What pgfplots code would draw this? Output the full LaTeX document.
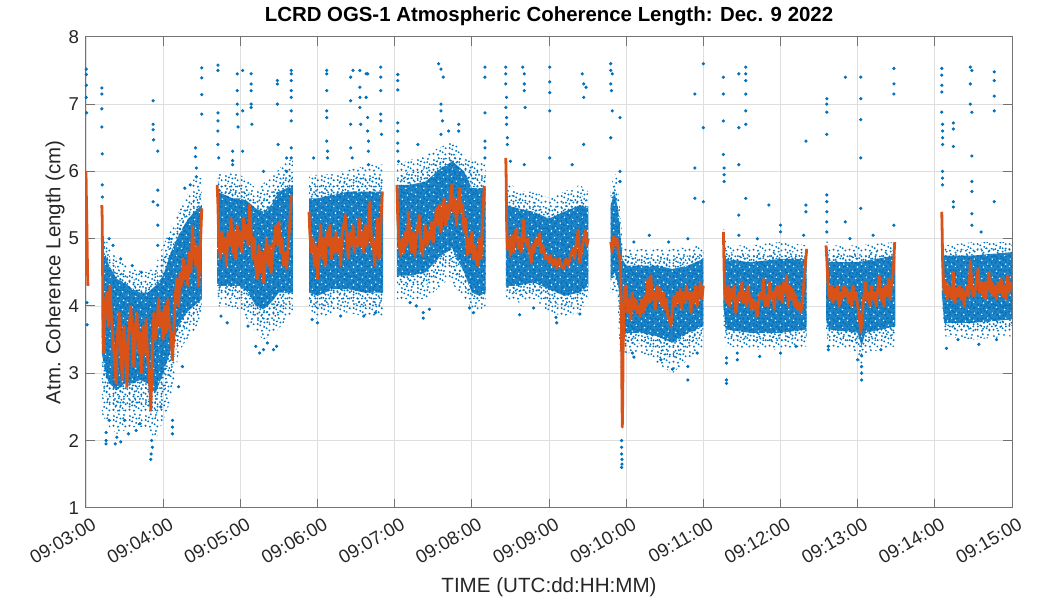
\documentclass[border=0pt]{standalone}
\usepackage{fontspec}
\setmainfont{Liberation Sans}
\usepackage{pgfplots}
\pgfplotsset{compat=1.18}
\usetikzlibrary{patterns}
\definecolor{mblue}{RGB}{0,114,189}
\definecolor{morange}{RGB}{217,83,25}
\pgfdeclarepatternformonly{speckle}{\pgfqpoint{0pt}{0pt}}{\pgfqpoint{8pt}{8pt}}{\pgfqpoint{8pt}{8pt}}{%
 \pgfpathcircle{\pgfqpoint{0.8pt}{1.2pt}}{0.55pt}
 \pgfpathcircle{\pgfqpoint{3.1pt}{0.7pt}}{0.55pt}
 \pgfpathcircle{\pgfqpoint{5.6pt}{2.0pt}}{0.55pt}
 \pgfpathcircle{\pgfqpoint{7.2pt}{4.1pt}}{0.55pt}
 \pgfpathcircle{\pgfqpoint{2.2pt}{3.5pt}}{0.55pt}
 \pgfpathcircle{\pgfqpoint{4.4pt}{5.0pt}}{0.55pt}
 \pgfpathcircle{\pgfqpoint{1.0pt}{6.3pt}}{0.55pt}
 \pgfpathcircle{\pgfqpoint{6.3pt}{6.9pt}}{0.55pt}
 \pgfpathcircle{\pgfqpoint{3.6pt}{7.3pt}}{0.55pt}
 \pgfpathcircle{\pgfqpoint{7.0pt}{0.8pt}}{0.55pt}
 \pgfpathcircle{\pgfqpoint{4.3pt}{2.7pt}}{0.55pt}
 \pgfpathcircle{\pgfqpoint{0.9pt}{4.2pt}}{0.55pt}
 \pgfpathcircle{\pgfqpoint{5.9pt}{5.2pt}}{0.55pt}
 \pgfpathcircle{\pgfqpoint{2.6pt}{5.6pt}}{0.55pt}
 \pgfusepath{fill}}
\pgfdeclarepatternformonly{speckleB}{\pgfqpoint{0pt}{0pt}}{\pgfqpoint{7pt}{7pt}}{\pgfqpoint{7pt}{7pt}}{%
 \pgfpathcircle{\pgfqpoint{1.9pt}{0.7pt}}{0.55pt}
 \pgfpathcircle{\pgfqpoint{4.6pt}{1.3pt}}{0.55pt}
 \pgfpathcircle{\pgfqpoint{6.2pt}{2.9pt}}{0.55pt}
 \pgfpathcircle{\pgfqpoint{0.7pt}{2.6pt}}{0.55pt}
 \pgfpathcircle{\pgfqpoint{3.2pt}{3.1pt}}{0.55pt}
 \pgfpathcircle{\pgfqpoint{5.0pt}{4.4pt}}{0.55pt}
 \pgfpathcircle{\pgfqpoint{1.6pt}{4.9pt}}{0.55pt}
 \pgfpathcircle{\pgfqpoint{3.9pt}{6.2pt}}{0.55pt}
 \pgfpathcircle{\pgfqpoint{6.3pt}{6.1pt}}{0.55pt}
 \pgfpathcircle{\pgfqpoint{0.7pt}{6.4pt}}{0.55pt}
 \pgfusepath{fill}}
\pgfdeclarepatternformonly{gaps}{\pgfqpoint{0pt}{0pt}}{\pgfqpoint{9pt}{9pt}}{\pgfqpoint{9pt}{9pt}}{%
 \pgfpathcircle{\pgfqpoint{1.2pt}{1.5pt}}{0.4pt}
 \pgfpathcircle{\pgfqpoint{5.1pt}{0.9pt}}{0.4pt}
 \pgfpathcircle{\pgfqpoint{7.6pt}{3.4pt}}{0.4pt}
 \pgfpathcircle{\pgfqpoint{3.3pt}{4.6pt}}{0.4pt}
 \pgfpathcircle{\pgfqpoint{0.8pt}{7.1pt}}{0.4pt}
 \pgfpathcircle{\pgfqpoint{6.0pt}{6.8pt}}{0.4pt}
 \pgfpathcircle{\pgfqpoint{8.2pt}{8.3pt}}{0.4pt}
 \pgfusepath{fill}}
\begin{document}
\begin{tikzpicture}
\begin{axis}[
 name=ax, at={(0,0)}, anchor=south west,
 width=463pt, height=235.5pt, scale only axis,
 xmin=0, xmax=12, ymin=1, ymax=8,
 xtick={0,1,2,3,4,5,6,7,8,9,10,11,12},
 xticklabels={09:03:00,09:04:00,09:05:00,09:06:00,09:07:00,09:08:00,09:09:00,09:10:00,09:11:00,09:12:00,09:13:00,09:14:00,09:15:00},
 ytick={1,2,3,4,5,6,7,8},
 xtick pos=both, ytick pos=both, tick align=inside,
 grid=major, grid style={black!13, line width=0.4pt},
 axis line style={black!55, line width=0.5pt},
 tick style={black!55, line width=0.5pt},
 major tick length=4.5pt,
 tick label style={font=\fontsize{9.3}{10}\selectfont, text=black!85},
 /pgf/number format/assume math mode=true,
 x tick label style={rotate=30, anchor=north east, inner sep=0.5pt, xshift=0.5pt, yshift=-4.5pt},
 title={\textbf{LCRD OGS-1 Atmospheric Coherence Length: Dec. 9 2022}},
 title style={font=\fontsize{10.2}{12}\selectfont, yshift=-4pt},
 xlabel={TIME (UTC:dd:HH:MM)},
 xlabel style={font=\fontsize{10.3}{12}\selectfont, text=black!85, at={(axis description cs:0.5,-0.1677)}, anchor=center},
 ylabel={Atm. Coherence Length (cm)},
 ylabel style={font=\fontsize{10.2}{12}\selectfont, text=black!85, at={(axis description cs:-0.0335,0.5)}, anchor=center},
]
\pgfplotsset{outer/.style={draw=none, pattern=speckle, pattern color=mblue},
 mid/.style={draw=none, pattern=speckleB, pattern color=mblue},
 core/.style={draw=none, fill=mblue, fill opacity=0.88},
 gap/.style={draw=none, pattern=gaps, pattern color=white}}
% outer envelopes (sparse dots)
\addplot[outer] coordinates {(0.205,5.1)(0.3,4.9)(0.4,4.7)(0.6,4.55)(0.8,4.5)(0.9,4.6)(1.0,4.9)(1.1,5.15)(1.2,5.4)(1.3,5.6)(1.4,5.9)(1.5,5.9)(1.5,3.9)(1.4,3.6)(1.3,3.5)(1.2,3.3)(1.1,2.6)(1.0,2.3)(0.9,2.0)(0.8,2.2)(0.6,2.2)(0.4,2.1)(0.3,2.2)(0.205,2.4)};
\addplot[outer] coordinates {(1.70,6.0)(2.0,5.95)(2.2,5.75)(2.4,5.9)(2.55,6.1)(2.68,6.2)(2.68,3.9)(2.6,3.8)(2.45,3.6)(2.3,3.5)(2.2,3.6)(2.0,3.95)(1.70,4.0)};
\addplot[outer] coordinates {(2.89,5.95)(3.1,5.95)(3.3,6.0)(3.5,6.05)(3.7,6.1)(3.85,6.1)(3.85,3.85)(3.6,3.85)(3.4,3.9)(3.2,3.9)(3.0,3.8)(2.89,3.9)};
\addplot[outer] coordinates {(4.03,6.1)(4.4,6.25)(4.75,6.45)(4.95,6.2)(5.18,6.1)(5.18,4.0)(5.05,3.9)(4.9,4.1)(4.7,4.4)(4.4,4.1)(4.03,4.1)};
\addplot[outer] coordinates {(5.44,5.9)(5.6,5.7)(5.8,5.7)(6.0,5.6)(6.2,5.7)(6.4,5.8)(6.51,5.7)(6.51,4.1)(6.4,3.9)(6.2,3.85)(6.0,3.9)(5.8,4.1)(5.6,4.05)(5.44,4.1)};
\addplot[outer] coordinates {(6.80,5.8)(6.88,6.0)(6.93,5.3)(6.96,4.85)(7.2,4.85)(7.6,4.85)(8.0,4.9)(8.0,3.4)(7.6,3.0)(7.2,3.3)(6.96,3.3)(6.93,3.0)(6.88,4.2)(6.80,4.2)};
\addplot[outer] coordinates {(8.26,5.2)(8.3,4.9)(8.6,4.9)(9.0,4.95)(9.34,4.9)(9.34,3.4)(9.0,3.35)(8.6,3.35)(8.3,3.4)(8.26,3.6)};
\addplot[outer] coordinates {(9.59,5.0)(9.63,4.9)(10.0,4.9)(10.49,4.95)(10.49,3.4)(10.1,3.3)(10.05,3.0)(10.0,3.3)(9.63,3.4)(9.59,3.6)};
\addplot[outer] coordinates {(11.09,5.5)(11.12,4.9)(11.5,4.95)(12,4.95)(12,3.55)(11.5,3.5)(11.12,3.55)(11.09,4.0)};
% middle envelopes (extra dots)
\addplot[mid] coordinates {(0.205,5.0)(0.3,4.75)(0.4,4.55)(0.6,4.4)(0.8,4.35)(0.9,4.45)(1.0,4.7)(1.1,5.0)(1.2,5.25)(1.3,5.45)(1.4,5.65)(1.5,5.7)(1.5,4.0)(1.4,3.8)(1.3,3.7)(1.2,3.5)(1.1,3.0)(1.0,2.65)(0.9,2.35)(0.8,2.5)(0.6,2.5)(0.4,2.4)(0.3,2.5)(0.205,2.85)};
\addplot[mid] coordinates {(1.70,5.85)(2.0,5.8)(2.2,5.6)(2.4,5.7)(2.55,5.9)(2.68,6.0)(2.68,4.05)(2.6,4.0)(2.45,3.8)(2.3,3.7)(2.2,3.8)(2.0,4.1)(1.70,4.15)};
\addplot[mid] coordinates {(2.89,5.8)(3.1,5.8)(3.3,5.85)(3.5,5.9)(3.7,5.9)(3.85,5.9)(3.85,4.0)(3.6,4.0)(3.4,4.05)(3.2,4.05)(3.0,3.95)(2.89,4.05)};
\addplot[mid] coordinates {(4.03,5.95)(4.4,6.05)(4.75,6.3)(4.95,6.1)(5.18,5.95)(5.18,4.1)(5.05,4.05)(4.9,4.3)(4.7,4.6)(4.4,4.3)(4.03,4.3)};
\addplot[mid] coordinates {(5.44,5.7)(5.6,5.6)(5.8,5.55)(6.0,5.45)(6.2,5.55)(6.4,5.65)(6.51,5.6)(6.51,4.2)(6.4,4.05)(6.2,4.0)(6.0,4.05)(5.8,4.2)(5.6,4.15)(5.44,4.2)};
\addplot[mid] coordinates {(6.80,5.65)(6.86,5.85)(6.93,5.15)(6.96,4.75)(7.2,4.72)(7.6,4.7)(8.0,4.8)(8.0,3.55)(7.6,3.2)(7.2,3.45)(6.96,3.4)(6.93,3.5)(6.88,4.35)(6.80,4.3)};
\addplot[mid] coordinates {(8.26,5.1)(8.3,4.8)(8.6,4.78)(9.0,4.82)(9.34,4.8)(9.34,3.52)(9.0,3.48)(8.6,3.48)(8.3,3.52)(8.26,3.8)};
\addplot[mid] coordinates {(9.59,4.9)(9.63,4.78)(10.0,4.78)(10.49,4.85)(10.49,3.55)(10.1,3.45)(10.05,3.2)(10.0,3.45)(9.63,3.52)(9.59,3.7)};
\addplot[mid] coordinates {(11.09,5.4)(11.12,4.82)(11.5,4.85)(12,4.88)(12,3.68)(11.5,3.62)(11.12,3.65)(11.09,4.1)};
% dense cores
\addplot[core] coordinates {(0.205,4.9)(0.25,4.75)(0.3,4.6)(0.4,4.4)(0.5,4.35)(0.6,4.25)(0.7,4.2)(0.8,4.2)(0.9,4.3)(1.0,4.45)(1.1,4.8)(1.2,5.05)(1.3,5.25)(1.4,5.4)(1.5,5.5)(1.5,4.1)(1.4,4.0)(1.3,3.9)(1.2,3.7)(1.1,3.35)(1.0,3.0)(0.9,2.7)(0.8,2.85)(0.7,2.9)(0.6,2.85)(0.5,2.85)(0.4,2.75)(0.3,2.85)(0.25,3.0)(0.205,3.3)};
\addplot[core] coordinates {(1.70,5.7)(1.8,5.65)(1.9,5.6)(2.0,5.6)(2.1,5.55)(2.2,5.45)(2.3,5.4)(2.4,5.5)(2.5,5.7)(2.6,5.75)(2.68,5.8)(2.68,4.2)(2.6,4.2)(2.5,4.2)(2.4,4.05)(2.3,3.95)(2.2,4.0)(2.1,4.2)(2.0,4.3)(1.9,4.3)(1.8,4.3)(1.70,4.3)};
\addplot[core] coordinates {(2.89,5.6)(3.0,5.6)(3.2,5.65)(3.4,5.7)(3.6,5.7)(3.85,5.7)(3.85,4.2)(3.6,4.2)(3.4,4.25)(3.2,4.25)(3.0,4.15)(2.89,4.2)};
\addplot[core] coordinates {(4.03,5.8)(4.2,5.8)(4.4,5.85)(4.6,6.05)(4.75,6.15)(4.9,6.0)(5.0,5.75)(5.18,5.75)(5.18,4.2)(5.1,4.15)(5.0,4.2)(4.9,4.5)(4.75,4.85)(4.6,4.75)(4.4,4.5)(4.2,4.45)(4.03,4.45)};
\addplot[core] coordinates {(5.44,5.5)(5.6,5.45)(5.8,5.4)(6.0,5.3)(6.2,5.4)(6.4,5.5)(6.51,5.45)(6.51,4.3)(6.4,4.2)(6.2,4.15)(6.0,4.25)(5.8,4.35)(5.6,4.3)(5.44,4.3)};
\addplot[core] coordinates {(6.80,5.5)(6.85,5.7)(6.90,5.4)(6.93,5.0)(6.95,4.7)(7.0,4.6)(7.2,4.6)(7.4,4.6)(7.6,4.55)(7.8,4.6)(8.0,4.7)(8.0,3.7)(7.8,3.6)(7.6,3.45)(7.4,3.55)(7.2,3.6)(7.0,3.6)(6.95,3.5)(6.93,4.0)(6.90,4.3)(6.85,4.5)(6.80,4.4)};
\addplot[core] coordinates {(8.26,5.0)(8.29,4.7)(8.6,4.65)(9.0,4.7)(9.34,4.7)(9.34,3.65)(9.0,3.6)(8.6,3.6)(8.29,3.65)(8.26,4.0)};
\addplot[core] coordinates {(9.59,4.8)(9.63,4.65)(10.0,4.65)(10.49,4.75)(10.49,3.7)(10.1,3.6)(10.05,3.4)(10.0,3.6)(9.63,3.65)(9.59,3.8)};
\addplot[core] coordinates {(11.09,5.3)(11.12,4.75)(11.5,4.75)(12,4.8)(12,3.8)(11.5,3.75)(11.12,3.75)(11.09,4.2)};
% small gaps in the dense cores
\addplot[gap] coordinates {(0.205,4.9)(0.25,4.75)(0.3,4.6)(0.4,4.4)(0.5,4.35)(0.6,4.25)(0.7,4.2)(0.8,4.2)(0.9,4.3)(1.0,4.45)(1.1,4.8)(1.2,5.05)(1.3,5.25)(1.4,5.4)(1.5,5.5)(1.5,4.1)(1.4,4.0)(1.3,3.9)(1.2,3.7)(1.1,3.35)(1.0,3.0)(0.9,2.7)(0.8,2.85)(0.7,2.9)(0.6,2.85)(0.5,2.85)(0.4,2.75)(0.3,2.85)(0.25,3.0)(0.205,3.3)};
\addplot[gap] coordinates {(1.70,5.7)(1.8,5.65)(1.9,5.6)(2.0,5.6)(2.1,5.55)(2.2,5.45)(2.3,5.4)(2.4,5.5)(2.5,5.7)(2.6,5.75)(2.68,5.8)(2.68,4.2)(2.6,4.2)(2.5,4.2)(2.4,4.05)(2.3,3.95)(2.2,4.0)(2.1,4.2)(2.0,4.3)(1.9,4.3)(1.8,4.3)(1.70,4.3)};
\addplot[gap] coordinates {(2.89,5.6)(3.0,5.6)(3.2,5.65)(3.4,5.7)(3.6,5.7)(3.85,5.7)(3.85,4.2)(3.6,4.2)(3.4,4.25)(3.2,4.25)(3.0,4.15)(2.89,4.2)};
\addplot[gap] coordinates {(4.03,5.8)(4.2,5.8)(4.4,5.85)(4.6,6.05)(4.75,6.15)(4.9,6.0)(5.0,5.75)(5.18,5.75)(5.18,4.2)(5.1,4.15)(5.0,4.2)(4.9,4.5)(4.75,4.85)(4.6,4.75)(4.4,4.5)(4.2,4.45)(4.03,4.45)};
\addplot[gap] coordinates {(5.44,5.5)(5.6,5.45)(5.8,5.4)(6.0,5.3)(6.2,5.4)(6.4,5.5)(6.51,5.45)(6.51,4.3)(6.4,4.2)(6.2,4.15)(6.0,4.25)(5.8,4.35)(5.6,4.3)(5.44,4.3)};
\addplot[gap] coordinates {(6.80,5.5)(6.85,5.7)(6.90,5.4)(6.93,5.0)(6.95,4.7)(7.0,4.6)(7.2,4.6)(7.4,4.6)(7.6,4.55)(7.8,4.6)(8.0,4.7)(8.0,3.7)(7.8,3.6)(7.6,3.45)(7.4,3.55)(7.2,3.6)(7.0,3.6)(6.95,3.5)(6.93,4.0)(6.90,4.3)(6.85,4.5)(6.80,4.4)};
\addplot[gap] coordinates {(8.26,5.0)(8.29,4.7)(8.6,4.65)(9.0,4.7)(9.34,4.7)(9.34,3.65)(9.0,3.6)(8.6,3.6)(8.29,3.65)(8.26,4.0)};
\addplot[gap] coordinates {(9.59,4.8)(9.63,4.65)(10.0,4.65)(10.49,4.75)(10.49,3.7)(10.1,3.6)(10.05,3.4)(10.0,3.6)(9.63,3.65)(9.59,3.8)};
\addplot[gap] coordinates {(11.09,5.3)(11.12,4.75)(11.5,4.75)(12,4.8)(12,3.8)(11.5,3.75)(11.12,3.75)(11.09,4.2)};
% scattered points
\addplot[only marks, mark=*, mark size=0.6pt, mark options={draw=mblue, fill=mblue}] coordinates {
(0.004,7.52)(0.004,7.44)(0.006,7.28)(0.004,7.1)(0.008,6.87)(0.012,4.05)(0.015,3.72)
(0.205,7.24)(0.205,7.15)(0.205,6.93)(0.205,6.66)(0.21,6.26)(0.21,5.8)(0.212,5.62)(0.87,7.05)(0.87,6.7)(0.87,6.62)(0.875,6.47)(0.93,6.3)(0.87,5.55)(0.93,5.72)(0.93,5.5)(0.93,5.2)(0.93,4.9)(1.5,7.54)(1.5,7.39)(1.5,7.14)(1.5,6.85)(1.42,6.35)(1.42,6.22)(1.43,6.05)(1.43,5.92)(1.35,5.8)(1.28,5.75)(0.26,2.0)(0.26,2.12)(0.26,1.95)(0.38,1.95)(0.4,2.05)(0.45,1.98)(0.55,2.1)(0.65,2.15)(0.84,1.72)(0.845,1.8)(0.85,2.0)(0.86,1.9)(1.12,2.1)(1.12,2.2)(1.12,2.3)(0.3,2.3)(0.7,2.25)(0.5,2.3)(0.6,4.6)(0.35,4.9)(0.3,5.0)(0.72,4.5)(0.45,4.7)(1.08,5.0)(0.97,2.5)(1.2,2.8)(1.25,3.1)
(1.71,7.58)(1.71,7.5)(1.71,6.87)(1.71,6.75)(1.71,6.6)(1.71,6.4)(1.72,6.2)(1.9,6.3)(1.9,6.16)(1.96,7.45)(1.96,7.2)(1.96,7.0)(1.96,6.85)(1.97,6.66)(2.03,7.5)(2.03,6.9)(2.03,6.3)(2.14,7.45)(2.14,7.3)(2.14,7.2)(2.14,7.0)(2.14,6.95)(2.15,6.7)(2.48,7.35)(2.48,7.3)(2.48,7.0)(2.49,6.4)(2.66,7.5)(2.66,7.45)(2.66,7.35)(2.66,7.2)(2.66,7.1)(2.66,6.9)(2.66,6.75)(2.66,6.35)(2.66,6.2)(2.6,6.2)(2.6,6.0)(2.2,3.4)(2.25,3.3)(2.3,3.35)(2.35,3.45)(2.43,3.35)(2.47,3.4)(1.75,3.85)(1.83,3.75)(2.1,3.7)(1.9,6.1)(2.3,6.0)
(3.12,7.5)(3.12,7.45)(3.12,7.2)(3.12,6.9)(3.12,6.8)(3.12,6.45)(3.13,6.3)(3.13,6.2)(3.43,7.4)(3.43,7.05)(3.43,6.7)(3.43,6.35)(3.46,7.5)(3.55,7.5)(3.55,7.25)(3.55,7.1)(3.55,6.95)(3.56,6.7)(3.63,7.45)(3.63,7.1)(3.65,7.45)(3.65,6.8)(3.65,6.6)(3.66,6.45)(3.66,6.3)(3.66,6.1)(3.82,7.55)(3.82,7.4)(3.82,7.2)(3.82,6.85)(3.82,6.75)(3.83,6.55)(3.0,3.75)(2.93,3.8)(3.3,3.85)(3.6,3.85)(3.75,3.9)(3.45,6.2)(2.95,6.2)
(4.04,7.44)(4.04,7.35)(4.04,7.21)(4.04,6.72)(4.04,6.6)(4.04,6.42)(4.04,6.3)(4.05,6.15)(4.57,7.6)(4.6,7.52)(4.63,7.4)(4.6,7.0)(4.6,6.9)(4.62,6.75)(4.6,6.55)(5.17,7.55)(5.17,7.4)(5.17,6.87)(5.17,6.45)(5.17,6.35)(5.17,6.2)(4.83,6.7)(4.83,6.6)(4.37,3.82)(4.37,3.9)(4.45,3.95)(4.28,4.0)(5.02,3.9)(4.97,3.97)(4.2,4.05)(4.3,6.4)(4.7,6.6)
(5.44,7.55)(5.44,7.45)(5.44,7.3)(5.45,7.1)(5.44,6.95)(5.45,6.8)(5.45,6.7)(5.46,6.5)(5.46,6.4)(5.66,7.55)(5.68,7.45)(5.68,7.3)(5.68,7.2)(5.69,6.95)(5.68,6.1)(6.01,7.55)(6.01,7.33)(6.01,7.17)(6.01,6.9)(6.01,6.2)(6.43,7.45)(6.45,7.3)(6.48,7.25)(6.45,7.1)(6.45,6.4)(5.62,3.87)(6.09,3.83)(6.1,3.75)(6.4,3.88)(5.8,3.97)(5.5,6.15)(6.3,6.1)
(6.8,7.6)(6.8,7.5)(6.82,7.45)(6.8,7.3)(6.81,7.2)(6.82,6.9)(6.92,6.8)(6.8,6.5)(6.92,6.0)(6.92,5.85)(7.89,7.15)(7.89,6.05)(7.89,5.6)(8.0,7.6)(8.0,6.65)(8.0,5.55)(6.94,2.0)(6.94,1.9)(6.94,1.8)(6.945,1.72)(6.945,1.65)(6.94,1.6)(7.08,3.3)(7.1,3.24)(7.6,3.06)(7.8,3.1)(7.8,2.9)(7.92,3.3)(7.3,5.05)(7.1,4.95)(7.55,4.95)(7.8,5.0)(7.45,3.2)
(8.26,7.4)(8.26,7.15)(8.26,6.75)(8.26,6.25)(8.27,6.05)(8.27,5.95)(8.27,5.85)(8.46,7.45)(8.46,6.65)(8.46,6.1)(8.46,5.35)(8.46,5.05)(8.55,7.55)(8.55,7.45)(8.55,7.35)(8.55,7.15)(8.55,6.9)(8.55,6.7)(8.55,5.6)(8.85,5.5)(9.0,5.2)(9.0,5.1)(9.33,6.45)(9.33,5.5)(9.33,5.4)(8.3,3.23)(8.3,3.15)(8.3,2.9)(8.3,2.85)(8.44,3.3)(8.44,3.2)(8.73,3.25)(9.0,3.3)(9.2,3.4)(9.3,5.05)(8.7,5.0)
(9.6,7.08)(9.6,7.0)(9.6,6.88)(9.6,6.55)(9.6,5.65)(9.6,5.55)(9.6,5.4)(9.6,5.25)(9.6,5.1)(9.84,7.4)(9.84,5.25)(10.04,7.4)(10.04,7.08)(10.04,6.77)(10.04,6.2)(10.04,5.45)(10.47,7.53)(10.47,7.3)(10.47,7.15)(10.47,5.2)(10.05,3.26)(10.05,3.1)(10.05,3.0)(10.05,2.9)(10.0,3.2)(9.62,3.4)(9.62,3.35)(10.3,3.35)(10.2,5.05)(9.9,5.0)
(11.09,7.53)(11.09,7.43)(11.09,7.28)(11.09,7.18)(11.09,6.88)(11.1,6.7)(11.1,6.6)(11.1,6.5)(11.1,6.4)(11.1,6.0)(11.1,5.9)(11.1,5.8)(11.24,6.72)(11.24,6.63)(11.24,6.37)(11.24,5.55)(11.24,5.47)(11.46,7.55)(11.48,7.5)(11.46,7.3)(11.46,7.0)(11.48,6.88)(11.48,6.23)(11.48,5.85)(11.48,5.7)(11.48,5.37)(11.48,5.2)(11.77,7.48)(11.77,7.35)(11.77,7.12)(11.77,6.9)(11.77,5.55)(11.15,3.37)(11.57,3.43)(11.8,3.5)(11.3,3.5)(11.6,5.1)
};
% moving average (orange)
\pgfplotsset{avg/.style={morange, line width=1.4pt, line join=round}}
\addplot[avg] coordinates {(0.0,6.0)(0.005,5.6)(0.01,5.3)(0.015,4.9)(0.02,4.5)(0.025,4.3)};
\addplot[avg] coordinates {(0.205,5.5)(0.21,5.3)(0.215,4.6)(0.22,3.6)(0.23,3.3)(0.245,4.0)(0.27,4.2)(0.29,3.7)(0.31,4.3)(0.33,3.8)(0.35,3.5)(0.37,3.2)(0.39,2.85)(0.41,3.6)(0.43,3.9)(0.45,3.3)(0.47,2.9)(0.49,3.7)(0.51,3.4)(0.53,2.8)(0.55,3.5)(0.58,4.0)(0.6,3.6)(0.62,3.1)(0.64,3.7)(0.66,3.9)(0.68,3.3)(0.7,3.6)(0.72,3.0)(0.74,3.7)(0.76,3.3)(0.78,3.8)(0.8,3.2)(0.82,3.0)(0.84,2.45)(0.86,3.3)(0.88,3.9)(0.9,3.5)(0.92,3.7)(0.94,4.1)(0.96,3.7)(0.98,3.9)(1.0,3.5)(1.02,4.0)(1.04,3.6)(1.06,4.1)(1.08,3.7)(1.1,3.6)(1.12,3.2)(1.14,3.6)(1.16,4.2)(1.18,4.4)(1.2,4.0)(1.22,4.5)(1.24,4.3)(1.26,4.7)(1.28,4.4)(1.3,4.6)(1.32,4.3)(1.34,4.8)(1.36,4.5)(1.38,5.17)(1.4,4.8)(1.42,4.6)(1.44,4.9)(1.46,4.3)(1.48,4.8)(1.5,5.45)};
\addplot[avg] coordinates {(1.70,5.8)(1.71,5.5)(1.72,5.0)(1.74,4.7)(1.76,5.1)(1.78,4.8)(1.8,5.0)(1.82,4.6)(1.84,5.1)(1.86,4.9)(1.88,5.3)(1.9,4.8)(1.92,5.1)(1.94,4.7)(1.96,5.2)(1.98,4.9)(2.0,5.1)(2.02,4.8)(2.04,5.3)(2.06,5.0)(2.08,5.2)(2.1,4.9)(2.12,5.5)(2.14,5.1)(2.16,4.7)(2.18,5.0)(2.2,4.6)(2.22,4.4)(2.24,4.9)(2.26,4.5)(2.28,4.8)(2.3,4.35)(2.32,4.7)(2.34,5.0)(2.36,4.6)(2.38,4.9)(2.4,4.5)(2.42,4.8)(2.44,5.0)(2.46,5.2)(2.48,4.9)(2.5,5.25)(2.52,4.8)(2.54,5.0)(2.56,4.6)(2.58,4.8)(2.6,4.55)(2.62,4.9)(2.64,5.2)(2.66,5.65)};
\addplot[avg] coordinates {(2.89,5.4)(2.9,5.1)(2.92,4.8)(2.94,5.0)(2.96,4.6)(2.98,4.9)(3.0,4.4)(3.02,4.8)(3.04,5.2)(3.06,4.7)(3.08,5.0)(3.1,4.6)(3.12,5.1)(3.14,4.9)(3.16,5.2)(3.18,4.7)(3.2,5.0)(3.22,4.8)(3.24,5.1)(3.26,4.8)(3.28,5.0)(3.3,4.6)(3.32,5.1)(3.34,5.2)(3.36,5.35)(3.38,5.0)(3.4,4.7)(3.42,5.1)(3.44,4.9)(3.46,5.2)(3.48,4.8)(3.5,5.0)(3.52,4.9)(3.54,5.3)(3.56,4.9)(3.58,5.1)(3.6,4.8)(3.62,5.2)(3.64,4.9)(3.66,5.2)(3.68,5.55)(3.7,4.9)(3.72,5.0)(3.74,4.6)(3.76,4.9)(3.78,5.3)(3.8,4.7)(3.82,5.2)(3.84,5.7)};
\addplot[avg] coordinates {(4.03,5.8)(4.04,5.3)(4.06,4.9)(4.08,4.75)(4.1,5.0)(4.12,4.8)(4.14,5.1)(4.16,4.9)(4.18,5.4)(4.2,5.0)(4.22,4.8)(4.24,5.1)(4.26,4.75)(4.28,5.0)(4.3,5.2)(4.32,5.35)(4.34,4.9)(4.36,4.75)(4.38,5.0)(4.4,5.2)(4.42,4.9)(4.44,5.1)(4.46,5.0)(4.48,5.25)(4.5,4.95)(4.52,5.15)(4.54,5.45)(4.56,5.2)(4.58,5.5)(4.6,5.1)(4.62,5.4)(4.64,5.6)(4.66,5.2)(4.68,5.5)(4.7,5.3)(4.72,5.6)(4.74,5.8)(4.76,5.4)(4.78,5.6)(4.8,5.2)(4.82,5.5)(4.84,5.75)(4.86,5.4)(4.88,5.5)(4.9,5.1)(4.92,5.3)(4.94,4.75)(4.96,5.0)(4.98,4.8)(5.0,5.1)(5.02,4.7)(5.04,4.9)(5.06,4.65)(5.08,4.6)(5.1,5.0)(5.12,4.7)(5.14,5.3)(5.16,5.78)};
\addplot[avg] coordinates {(5.44,6.2)(5.445,5.9)(5.45,5.3)(5.46,4.85)(5.48,5.0)(5.5,4.75)(5.52,5.05)(5.54,4.8)(5.56,5.1)(5.58,5.15)(5.6,4.85)(5.62,5.0)(5.64,4.8)(5.66,5.1)(5.67,5.28)(5.69,5.0)(5.71,4.9)(5.73,5.0)(5.75,4.8)(5.77,4.64)(5.79,4.9)(5.81,4.8)(5.83,5.0)(5.85,4.9)(5.88,5.08)(5.9,4.8)(5.92,4.9)(5.95,4.7)(5.97,4.75)(6.0,4.65)(6.02,4.75)(6.05,4.6)(6.08,4.7)(6.1,4.55)(6.13,4.7)(6.16,4.6)(6.19,4.55)(6.22,4.7)(6.25,4.6)(6.28,4.75)(6.31,4.85)(6.33,4.7)(6.36,5.0)(6.38,5.13)(6.4,4.64)(6.42,4.8)(6.45,5.0)(6.47,5.13)(6.49,4.9)(6.51,5.0)};
\addplot[avg] coordinates {(6.80,4.95)(6.82,4.8)(6.84,5.03)(6.86,4.9)(6.88,5.0)(6.9,4.8)(6.92,4.7)(6.93,4.3)(6.94,3.6)(6.945,2.7)(6.95,2.2)(6.955,2.6)(6.96,3.3)(6.97,3.9)(6.98,4.25)(7.0,4.3)(7.02,3.9)(7.04,4.1)(7.06,3.8)(7.08,4.2)(7.1,3.95)(7.12,4.1)(7.14,3.9)(7.16,4.0)(7.18,3.85)(7.2,4.1)(7.22,3.9)(7.24,4.15)(7.26,4.0)(7.28,4.4)(7.3,4.05)(7.32,4.45)(7.34,4.1)(7.36,4.2)(7.38,3.95)(7.4,4.3)(7.42,4.1)(7.44,4.25)(7.46,4.0)(7.48,4.2)(7.5,3.95)(7.52,4.1)(7.54,3.85)(7.56,3.8)(7.58,3.7)(7.6,3.95)(7.62,4.15)(7.64,4.0)(7.66,4.2)(7.68,4.05)(7.7,4.25)(7.72,3.95)(7.74,4.2)(7.76,4.05)(7.78,4.3)(7.8,4.1)(7.82,4.2)(7.84,3.9)(7.86,4.2)(7.88,4.05)(7.9,4.3)(7.92,4.0)(7.94,4.15)(7.96,4.35)(7.98,4.1)(8.0,4.3)};
\addplot[avg] coordinates {(8.26,5.1)(8.265,4.8)(8.27,4.5)(8.28,4.2)(8.3,4.05)(8.32,4.3)(8.34,4.0)(8.36,4.25)(8.38,4.1)(8.4,4.3)(8.42,3.9)(8.44,4.05)(8.46,4.2)(8.48,4.1)(8.5,4.35)(8.52,4.05)(8.54,4.2)(8.56,4.0)(8.58,4.3)(8.6,4.1)(8.62,3.95)(8.64,4.1)(8.66,3.95)(8.68,4.05)(8.7,3.85)(8.72,4.1)(8.74,4.2)(8.76,4.1)(8.78,4.4)(8.8,4.0)(8.82,4.15)(8.84,4.0)(8.86,4.35)(8.88,4.1)(8.9,4.2)(8.92,3.95)(8.94,4.25)(8.96,4.3)(8.98,4.1)(9.0,4.3)(9.02,4.05)(9.04,4.35)(9.06,4.2)(9.08,4.45)(9.1,4.0)(9.12,4.3)(9.14,4.1)(9.16,4.25)(9.18,4.0)(9.2,4.15)(9.22,3.95)(9.24,4.05)(9.26,3.9)(9.28,4.0)(9.3,4.3)(9.32,4.6)(9.34,4.85)};
\addplot[avg] coordinates {(9.59,4.9)(9.6,4.7)(9.61,4.45)(9.62,4.25)(9.64,4.1)(9.66,4.3)(9.68,4.05)(9.7,4.25)(9.72,4.1)(9.74,4.3)(9.76,4.0)(9.78,4.2)(9.8,4.1)(9.82,4.3)(9.84,4.15)(9.86,4.25)(9.88,4.05)(9.9,4.2)(9.92,4.0)(9.94,4.3)(9.96,4.1)(9.98,4.2)(10.0,4.0)(10.02,3.85)(10.04,3.6)(10.06,3.9)(10.08,4.15)(10.1,4.35)(10.12,4.1)(10.14,4.2)(10.16,4.0)(10.18,4.3)(10.2,4.1)(10.22,4.2)(10.24,4.0)(10.26,4.25)(10.28,4.45)(10.3,4.1)(10.32,4.25)(10.34,4.0)(10.36,4.3)(10.38,4.15)(10.4,4.4)(10.42,4.1)(10.44,4.35)(10.46,4.5)(10.48,4.95)};
\addplot[avg] coordinates {(11.09,5.4)(11.095,5.1)(11.1,4.7)(11.11,4.4)(11.12,4.2)(11.14,4.35)(11.16,4.1)(11.18,4.3)(11.2,4.25)(11.22,4.1)(11.24,4.5)(11.26,4.05)(11.28,4.25)(11.3,4.15)(11.32,4.3)(11.34,4.1)(11.36,4.25)(11.38,4.0)(11.4,4.2)(11.42,4.3)(11.44,4.15)(11.46,4.67)(11.48,4.3)(11.5,4.15)(11.52,4.2)(11.54,4.35)(11.56,4.55)(11.58,4.2)(11.6,4.35)(11.62,4.15)(11.64,4.35)(11.66,4.1)(11.68,4.3)(11.7,4.5)(11.72,4.2)(11.74,4.35)(11.76,4.15)(11.78,4.3)(11.8,4.1)(11.82,4.35)(11.84,4.2)(11.86,4.4)(11.88,4.15)(11.9,4.3)(11.92,4.1)(11.94,4.45)(11.96,4.2)(11.98,4.35)(12.0,4.25)};
\end{axis}
\path[use as bounding box] ([shift={(-43pt,-45pt)}]ax.south west) rectangle ([shift={(13pt,17pt)}]ax.north east);
\end{tikzpicture}
\end{document}
